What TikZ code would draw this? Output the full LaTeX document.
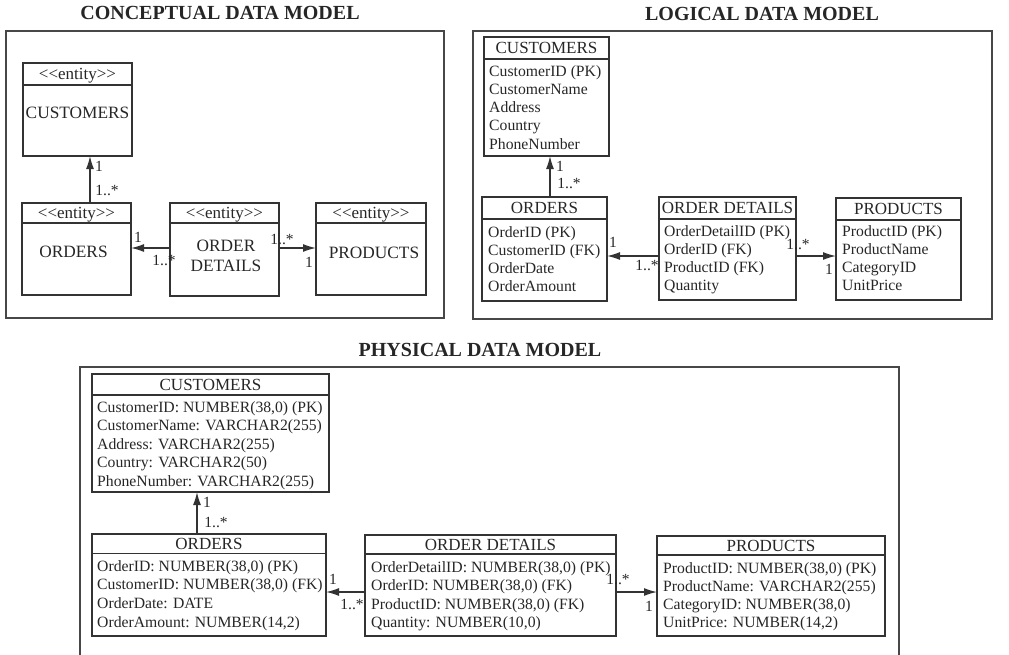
\documentclass[tikz,border=0pt]{standalone}
\usepackage{fontspec}
\setmainfont{Liberation Serif}
\usetikzlibrary{arrows.meta,calc}
\definecolor{ink}{HTML}{333333}
\definecolor{txt}{HTML}{262626}

\begin{document}
\begin{tikzpicture}[x=1pt,y=-1pt,
        heading/.style={font=\bfseries\fontsize{20}{24}\selectfont, text=txt, inner sep=0pt},
        panel/.style={draw=ink!90, line width=1.4pt},
        box/.style={draw=ink, line width=1.2pt, anchor=north west, inner sep=0pt, outer sep=0pt},
        divider/.style={draw=ink, line width=1.2pt},
        hdr/.style={font=\fontsize{17}{20}\selectfont, text=txt, inner sep=0pt, text depth=0pt},
        ename/.style={font=\fontsize{17.3}{20}\selectfont, text=txt, inner sep=0pt, align=center},
        attr/.style={font=\fontsize{15.7}{18}\selectfont, text=txt, inner sep=0pt, anchor=west, text height=11pt, text depth=1pt},
        mult/.style={font=\fontsize{15.5}{18}\selectfont, text=txt, inner sep=0pt},
        rel/.style={draw=ink, line width=1.3pt, -{Latex[length=13pt,width=8pt]}}]
        \useasboundingbox (0,0) rectangle (1009,654);

        \draw[panel] (6,31) rectangle (444,318);
        \node[heading] at (220,13) {CONCEPTUAL DATA MODEL};
        \node[box, minimum width=109pt, minimum height=93pt] (cCust) at (23,63) {};
        \node[box, minimum width=109pt, minimum height=92pt] (cOrd) at (22,203) {};
        \node[box, minimum width=109pt, minimum height=93pt] (cDet) at (170,203) {};
        \node[box, minimum width=110pt, minimum height=92pt] (cProd) at (316,203) {};
        \foreach \n/\h in {cCust/22,cOrd/20,cDet/20,cProd/20}{
          \draw[divider] ($(\n.north west)+(0,\h)$) -- ($(\n.north east)+(0,\h)$);
          \node[hdr] at ($(\n.north)+(0,\h/2)$) {<\kern0pt<entity>\kern0pt>};
        }
        \node[ename] at ($(cCust.north)+(0,50)$) {CUSTOMERS};
        \node[ename] at ($(cOrd.north)+(-3,49)$) {ORDERS};
        \node[ename] at ($(cDet.north)+(1.5,53)$) {ORDER\\DETAILS};
        \node[ename] at ($(cProd.north)+(3,50)$) {PRODUCTS};
        \draw[rel] ($(cOrd.north west)+(68,0)$) coordinate (c1) -- (c1 |- cCust.south) coordinate (c2);
        \draw[rel] ($(cDet.west)+(0,-1.5)$) coordinate (c3) -- (c3 -| cOrd.east) coordinate (c4);
        \draw[rel] ($(cDet.east)+(0,-1.5)$) coordinate (c5) -- (c5 -| cProd.west) coordinate (c6);
        \node[mult] at ($(c2)+(9,10)$) {1};
        \node[mult] at ($(c1)+(17,-13)$) {1..*};
        \node[mult] at ($(c4)+(7,-11)$) {1};
        \node[mult] at ($(c3)+(-6,12)$) {1..*};
        \node[mult] at ($(c5)+(3,-9)$) {1..*};
        \node[mult] at ($(c6)+(-7,14)$) {1};

        \draw[panel] (473,31) rectangle (992,319);
        \node[heading] at (762,14) {LOGICAL DATA MODEL};
        \node[box, minimum width=125pt, minimum height=119pt] (lCust) at (484,37) {};
        \node[box, minimum width=125pt, minimum height=104pt] (lOrd) at (482,197) {};
        \node[box, minimum width=137pt, minimum height=103pt] (lDet) at (659,197) {};
        \node[box, minimum width=125pt, minimum height=102pt] (lProd) at (836,198) {};
        \foreach \n/\t in {lCust/CUSTOMERS,lOrd/ORDERS,lDet/ORDER DETAILS,lProd/PRODUCTS}{
          \draw[divider] ($(\n.north west)+(0,22)$) -- ($(\n.north east)+(0,22)$);
          \node[hdr] at ($(\n.north)+(0,11)$) {\t};
        }
        \foreach \a [count=\i from 0] in {CustomerID (PK),CustomerName,Address,Country,PhoneNumber}
          \node[attr] at ($(lCust.north west)+(5,34+18.3*\i)$) {\a};
        \foreach \a [count=\i from 0] in {OrderID (PK),CustomerID (FK),OrderDate,OrderAmount}
          \node[attr] at ($(lOrd.north west)+(6,35+18.3*\i)$) {\a};
        \foreach \a [count=\i from 0] in {OrderDetailID (PK),OrderID (FK),ProductID (FK),Quantity}
          \node[attr] at ($(lDet.north west)+(5,34+18.3*\i)$) {\a};
        \foreach \a [count=\i from 0] in {ProductID (PK),ProductName,CategoryID,UnitPrice}
          \node[attr] at ($(lProd.north west)+(6,33+18.3*\i)$) {\a};
        \draw[rel] ($(lOrd.north west)+(68,0)$) coordinate (l1) -- (l1 |- lCust.south) coordinate (l2);
        \draw[rel] ($(lDet.west)+(0,7.5)$) coordinate (l3) -- (l3 -| lOrd.east) coordinate (l4);
        \draw[rel] ($(lDet.east)+(0,7.5)$) coordinate (l5) -- (l5 -| lProd.west) coordinate (l6);
        \node[mult] at ($(l2)+(10,10)$) {1};
        \node[mult] at ($(l1)+(19,-14)$) {1..*};
        \node[mult] at ($(l4)+(6,-14)$) {1};
        \node[mult] at ($(l3)+(-12,9)$) {1..*};
        \node[mult] at ($(l5)+(2,-12)$) {1..*};
        \node[mult] at ($(l6)+(-7,13)$) {1};

        \draw[panel] (80,656) -- (80,367) -- (899,367) -- (899,656);
        \node[heading] at (480,350) {PHYSICAL DATA MODEL};
        \node[box, minimum width=237pt, minimum height=118pt] (pCust) at (92,374) {};
        \node[box, minimum width=234pt, minimum height=102pt] (pOrd) at (92,534) {};
        \node[box, minimum width=251pt, minimum height=101pt] (pDet) at (365,535) {};
        \node[box, minimum width=228pt, minimum height=100pt] (pProd) at (657,536) {};
        \foreach \n/\t/\h in {pCust/CUSTOMERS/21,pOrd/ORDERS/19.5,pDet/ORDER DETAILS/19,pProd/PRODUCTS/19}{
          \draw[divider] ($(\n.north west)+(0,\h)$) -- ($(\n.north east)+(0,\h)$);
          \node[hdr] at ($(\n.north)+(0,\h/2)$) {\t};
        }
        \foreach \a [count=\i from 0] in {{CustomerID: NUMBER(38,0) (PK)},{CustomerName: VARCHAR2(255)},{Address: VARCHAR2(255)},{Country: VARCHAR2(50)},{PhoneNumber: VARCHAR2(255)}}
          \node[attr] at ($(pCust.north west)+(5,33+18.5*\i)$) {\a};
        \foreach \a [count=\i from 0] in {{OrderID: NUMBER(38,0) (PK)},{CustomerID: NUMBER(38,0) (FK)},{OrderDate: DATE},{OrderAmount: NUMBER(14,2)}}
          \node[attr] at ($(pOrd.north west)+(5,32+18.7*\i)$) {\a};
        \foreach \a [count=\i from 0] in {{OrderDetailID: NUMBER(38,0) (PK)},{OrderID: NUMBER(38,0) (FK)},{ProductID: NUMBER(38,0) (FK)},{Quantity: NUMBER(10,0)}}
          \node[attr] at ($(pDet.north west)+(6,32+18.5*\i)$) {\a};
        \foreach \a [count=\i from 0] in {{ProductID: NUMBER(38,0) (PK)},{ProductName: VARCHAR2(255)},{CategoryID: NUMBER(38,0)},{UnitPrice: NUMBER(14,2)}}
          \node[attr] at ($(pProd.north west)+(6,32+18*\i)$) {\a};
        \draw[rel] ($(pOrd.north west)+(105,0)$) coordinate (p1) -- (p1 |- pCust.south) coordinate (p2);
        \draw[rel] ($(pDet.west)+(0,6.5)$) coordinate (p3) -- (p3 -| pOrd.east) coordinate (p4);
        \draw[rel] ($(pDet.east)+(0,6.5)$) coordinate (p5) -- (p5 -| pProd.west) coordinate (p6);
        \node[mult] at ($(p2)+(10,10)$) {1};
        \node[mult] at ($(p1)+(19,-12)$) {1..*};
        \node[mult] at ($(p4)+(7,-13)$) {1};
        \node[mult] at ($(p3)+(-13,12)$) {1..*};
        \node[mult] at ($(p5)+(2,-13)$) {1..*};
        \node[mult] at ($(p6)+(-8,14)$) {1};
\end{tikzpicture}
\end{document}
